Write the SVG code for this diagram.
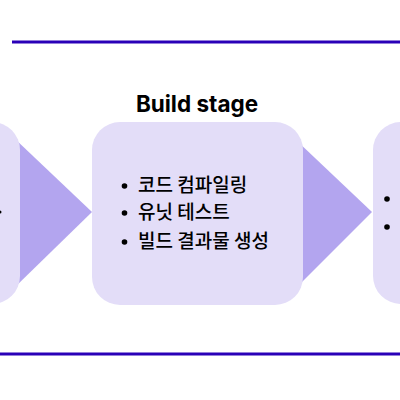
<svg xmlns="http://www.w3.org/2000/svg" width="400" height="400" viewBox="0 0 400 400">
<style>
.rule{stroke:#2a00b8;stroke-width:3}
.arrow{fill:#b3a5ef}
.box{fill:#e3ddf8}
.title{font-family:"Inter","Liberation Sans",sans-serif;font-weight:700;font-size:22.5px;fill:#000}
.item{font-family:"Noto Sans CJK KR","Liberation Sans",sans-serif;font-size:19px;font-weight:500;fill:#000}
.dot{fill:#000}
</style>
<rect width="400" height="400" fill="#fff"/>
<line class="rule" x1="12" y1="42" x2="400" y2="42"/>
<line class="rule" x1="0" y1="354" x2="400" y2="354"/>
<g id="connectors">
<polygon class="arrow" points="14,138 92,212 14,288"/>
<polygon class="arrow" points="296,140 372,212 296,288"/>
</g>
<g id="node-prev">
<rect class="box" x="-80" y="122" width="100" height="182" rx="28"/>
<circle class="dot" cx="0" cy="212" r="1.5"/>
</g>
<g id="node-build">
<rect class="box" x="92" y="122" width="211" height="183" rx="28"/>
<text class="title" x="197" y="112" text-anchor="middle">Build stage</text>
<circle class="dot" cx="124.5" cy="186" r="2.8"/>
<text class="item" x="138" y="192">코드 컴파일링</text>
<circle class="dot" cx="124.5" cy="213" r="2.8"/>
<text class="item" x="138" y="219">유닛 테스트</text>
<circle class="dot" cx="124.5" cy="242" r="2.8"/>
<text class="item" x="138" y="248">빌드 결과물 생성</text>
</g>
<g id="node-next">
<rect class="box" x="373" y="122" width="100" height="182" rx="28"/>
<circle class="dot" cx="387" cy="199" r="2.8"/>
<circle class="dot" cx="387" cy="227" r="2.8"/>
</g>
</svg>
